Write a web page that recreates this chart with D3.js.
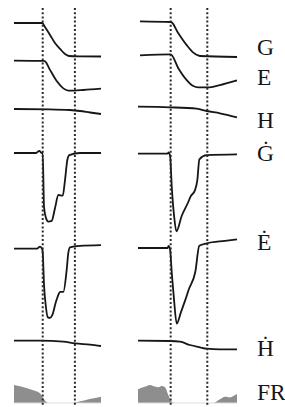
<!DOCTYPE html>
<html><head><meta charset="utf-8">
<script src="https://cdn.jsdelivr.net/npm/d3@7"></script>
<style>html,body{margin:0;padding:0;background:#fff;overflow:hidden}</style>
</head><body>
<svg id="c" width="285" height="407"></svg>
<script>
// ---- data (time in % of panel, values in normalized units) ----
const events = [33, 70];
const rowNames = ["G", "E", "H", "Ġ", "Ė", "Ḣ", "FR"];

const gLeft  = [[0,0.97],[32.5,0.97],[35.6,0.85],[41.4,0.62],[47.1,0.38],[52.9,0.21],[58.6,0.06],[63.2,0],[75.9,-0.01],[100,-0.015]];
const gRight = [[2,1.02],[33.3,1.0],[40.7,0.67],[49.2,0.32],[55.9,0.10],[62.6,0],[100,-0.03]];

const eLeft  = [[0,0.89],[34.5,0.88],[35.6,0.87],[41.4,0.61],[49.1,0.27],[56.7,0.05],[62.4,-0.02],[79.7,0],[100,0.04]];
const eRight = [[2,1.05],[33,1.08],[40.7,0.66],[49.2,0.30],[55.9,0.12],[60.9,0.08],[70,0.08],[82.8,0.15],[100,0.29]];

const hLeft  = [[0,-0.1],[41,-0.13],[64,-0.2],[75.9,-0.3],[87.4,-0.45],[100,-0.6]];
const hRight = [[0,0.13],[32.3,0.07],[59.3,-0.07],[69.4,-0.3],[82.8,-0.53],[100,-0.93]];

const gdLeft  = [[0,0],[25.3,0],[29.1,0.03],[31.8,0],[33.0,0],[34.5,-0.77],[36.8,-0.93],[39.4,-0.98],[43.3,-0.97],[47.1,-0.79],[51.0,-0.6],[56.0,-0.61],[58.6,-0.39],[61.3,-0.1],[63.6,-0.03],[75.9,0],[100,0]];
const gdRight = [[0,-0.01],[30,-0.01],[30.8,0.01],[32.3,-0.03],[34.3,-0.53],[36.4,-0.89],[38.8,-1.12],[44.1,-0.9],[50.8,-0.7],[53.2,-0.62],[57.6,-0.53],[59.9,-0.39],[62.0,-0.09],[69.4,-0.03],[100,-0.02]];

const edLeft  = [[0,-0.01],[26.4,-0.01],[29.9,0.02],[32.2,-0.01],[33.0,-0.06],[34.5,-0.51],[36.8,-0.83],[38.7,-0.96],[41.4,-0.97],[44.1,-0.93],[47.9,-0.76],[51.0,-0.65],[52.9,-0.61],[56.7,-0.61],[60.5,-0.31],[62.5,-0.06],[64.4,0.01],[75.9,0.03],[100,0.04]];
const edRight = [[0,0],[30,0],[30.8,0.03],[32.3,-0.01],[34.3,-0.38],[36.4,-0.72],[39.1,-1.05],[43.4,-0.89],[47.8,-0.72],[51.2,-0.58],[57.9,-0.33],[61.9,0.03],[69.4,0.065],[87.9,0.1],[100,0.12]];

const hdLeft  = [[0,0.03],[29.9,0.03],[56.7,-0.07],[70.1,-0.23],[87.4,-0.37],[100,-0.5]];
const hdRight = [[0,0.03],[32.3,0],[42.4,-0.07],[52.5,-0.4],[62.6,-0.63],[69.4,-0.77],[82.8,-0.83],[100,-0.83]];

const frLeft  = [[0,1.0],[8,0.92],[16,0.81],[23,0.69],[29.9,0.54],[33.7,0.26],[39.4,0],[64.4,0],[74,0.07],[87,0.22],[100,0.35]];
const frRight = [[0,0.76],[7.4,0.91],[12.1,1.0],[17.2,0.91],[20.5,0.87],[23.9,0.94],[27.3,0.87],[30.6,0.44],[34,0.07],[37.4,0],[76,0],[82.8,0.21],[87.9,0.35],[92.9,0.31],[96.3,0.39],[100,0.5]];

// ---- layout ----
const panels = [{x0:14, x1:101}, {x0:138, x1:237}];
const rows = [
  {dom:[0,1],  rng:[56,22],   label:55,  L:gLeft,  R:gRight},
  {dom:[0,1],  rng:[90,57],   label:85,  L:eLeft,  R:eRight},
  {dom:[-1,0], rng:[118,108], label:128, L:hLeft,  R:hRight},
  {dom:[-1,0], rng:[223,153], label:161, L:gdLeft, R:gdRight},
  {dom:[-1,0], rng:[320,248], label:250, L:edLeft, R:edRight},
  {dom:[-1,0], rng:[351,341], label:356, L:hdLeft, R:hdRight},
  {dom:[0,1],  rng:[403,385], label:400, L:frLeft, R:frRight, area:true}
];

const svg = d3.select("#c");
panels.forEach((p, pi) => {
  const x = d3.scaleLinear().domain([0,100]).range([p.x0, p.x1]);
  const g = svg.append("g");
  rows.forEach(r => {
    const y = d3.scaleLinear().domain(r.dom).range(r.rng);
    const d = pi === 0 ? r.L : r.R;
    if (r.area) {
      g.append("path").datum(d)
        .attr("d", d3.area().x(v=>x(v[0])).y0(y(0)).y1(v=>y(v[1])).curve(d3.curveMonotoneX))
        .attr("fill", "#8e8e8e").attr("stroke", "none");
      g.append("line").attr("x1", x(0)).attr("x2", x(100)).attr("y1", y(0)).attr("y2", y(0))
        .attr("stroke", "#ddd").attr("stroke-width", 1);
    } else {
      g.append("path").datum(d)
        .attr("d", d3.line().x(v=>x(v[0])).y(v=>y(v[1])).curve(d3.curveMonotoneX))
        .attr("fill", "none").attr("stroke", "#161616").attr("stroke-width", 1.8)
        .attr("stroke-linejoin", "round");
    }
  });
  events.forEach(t => {
    g.append("line").attr("x1", x(t)).attr("x2", x(t)).attr("y1", 8).attr("y2", 407)
      .attr("stroke", "#2a2a2a").attr("stroke-width", 2).attr("stroke-dasharray", "2,2.2");
  });
});

svg.selectAll("text.lab").data(rows).enter().append("text")
  .attr("class", "lab")
  .attr("x", 257).attr("y", r => r.label)
  .attr("font-family", "'Liberation Serif','DejaVu Serif',serif")
  .attr("font-size", 23.5).attr("fill", "#161616")
  .text((r, i) => rowNames[i]);
</script>
</body></html>
